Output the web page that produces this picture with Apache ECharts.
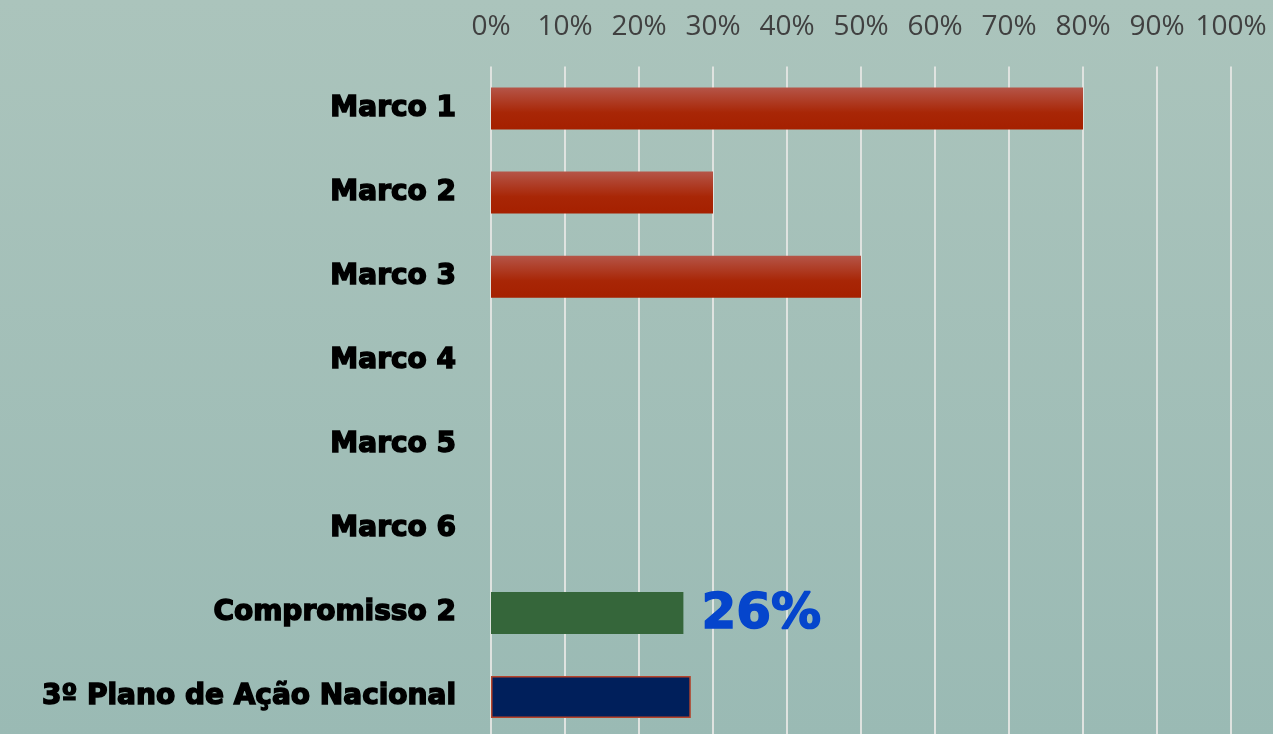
<!DOCTYPE html>
<html>
<head>
<meta charset="utf-8">
<script src="https://cdn.jsdelivr.net/npm/echarts@6/dist/echarts.min.js"></script>
<style>
  html, body { margin: 0; padding: 0; overflow: hidden; }
  #chart { width: 1273px; height: 739px; }
</style>
</head>
<body>
<div id="chart"></div>
<script>
// === Progress chart: share completed per milestone ===

const categories = [
  "Marco 1", "Marco 2", "Marco 3", "Marco 4", "Marco 5", "Marco 6",
  "Compromisso 2", "3º Plano de Ação Nacional"
];
const progress = [0.80, 0.30, 0.50, 0, 0, 0, 0.26, 0.27];
const axisTicks = [0, 0.1, 0.2, 0.3, 0.4, 0.5, 0.6, 0.7, 0.8, 0.9, 1];
const highlightIndex = 6; // Compromisso 2 gets the big label

const chart = echarts.init(document.getElementById("chart"));

const redBar = new echarts.graphic.LinearGradient(0, 0, 0, 1, [
  { offset: 0, color: "#b55548" },
  { offset: 0.6, color: "#a82606" },
  { offset: 1, color: "#a52000" }
]);

function barStyle(i) {
  if (i === 6) return { color: "#35663a" };
  if (i === 7) return { color: "#001f5b", borderColor: "#b5432a", borderWidth: 1.5 };
  return { color: redBar };
}

const seriesData = progress.map((v, i) => {
  const item = { value: v, itemStyle: barStyle(i) };
  if (i === highlightIndex) {
    item.label = {
      show: true,
      position: "right",
      distance: 18,
      offset: [0, 2],
      formatter: p => Math.round(p.value * 100) + "%",
      color: "#0545cc",
      fontFamily: "DejaVu Sans",
      fontWeight: "bold",
      fontSize: 50,
      textBorderColor: "#0545cc",
      textBorderWidth: 1.5
    };
  }
  return item;
});

chart.setOption({
  backgroundColor: new echarts.graphic.LinearGradient(0, 0, 0, 1, [
    { offset: 0, color: "#abc4bc" },
    { offset: 1, color: "#9abab4" }
  ]),
  grid: { left: 491, right: 42, top: 66.5, bottom: 0, containLabel: false },
  xAxis: {
    type: "value",
    position: "top",
    min: 0,
    max: 1,
    interval: 0.1,
    axisLine: { show: false },
    axisTick: { show: false },
    axisLabel: {
      margin: 25,
      color: "#404040",
      fontFamily: "Open Sans",
      fontSize: 28,
      formatter: v => {
        const t = axisTicks.find(x => Math.abs(x - v) < 1e-9);
        return t === undefined ? "" : Math.round(t * 100) + "%";
      }
    },
    splitLine: { show: true, lineStyle: { color: "#dfe3e0", width: 2 } }
  },
  yAxis: {
    type: "category",
    inverse: true,
    data: categories,
    axisLine: { show: false },
    axisTick: { show: false },
    axisLabel: {
      margin: 35,
      color: "#000",
      fontFamily: "DejaVu Sans",
      fontWeight: "bold",
      fontSize: 28,
      textBorderColor: "#000",
      textBorderWidth: 1.5
    }
  },
  series: [{
    type: "bar",
    barWidth: 42,
    data: seriesData,
    animation: false
  }]
});
</script>
</body>
</html>
